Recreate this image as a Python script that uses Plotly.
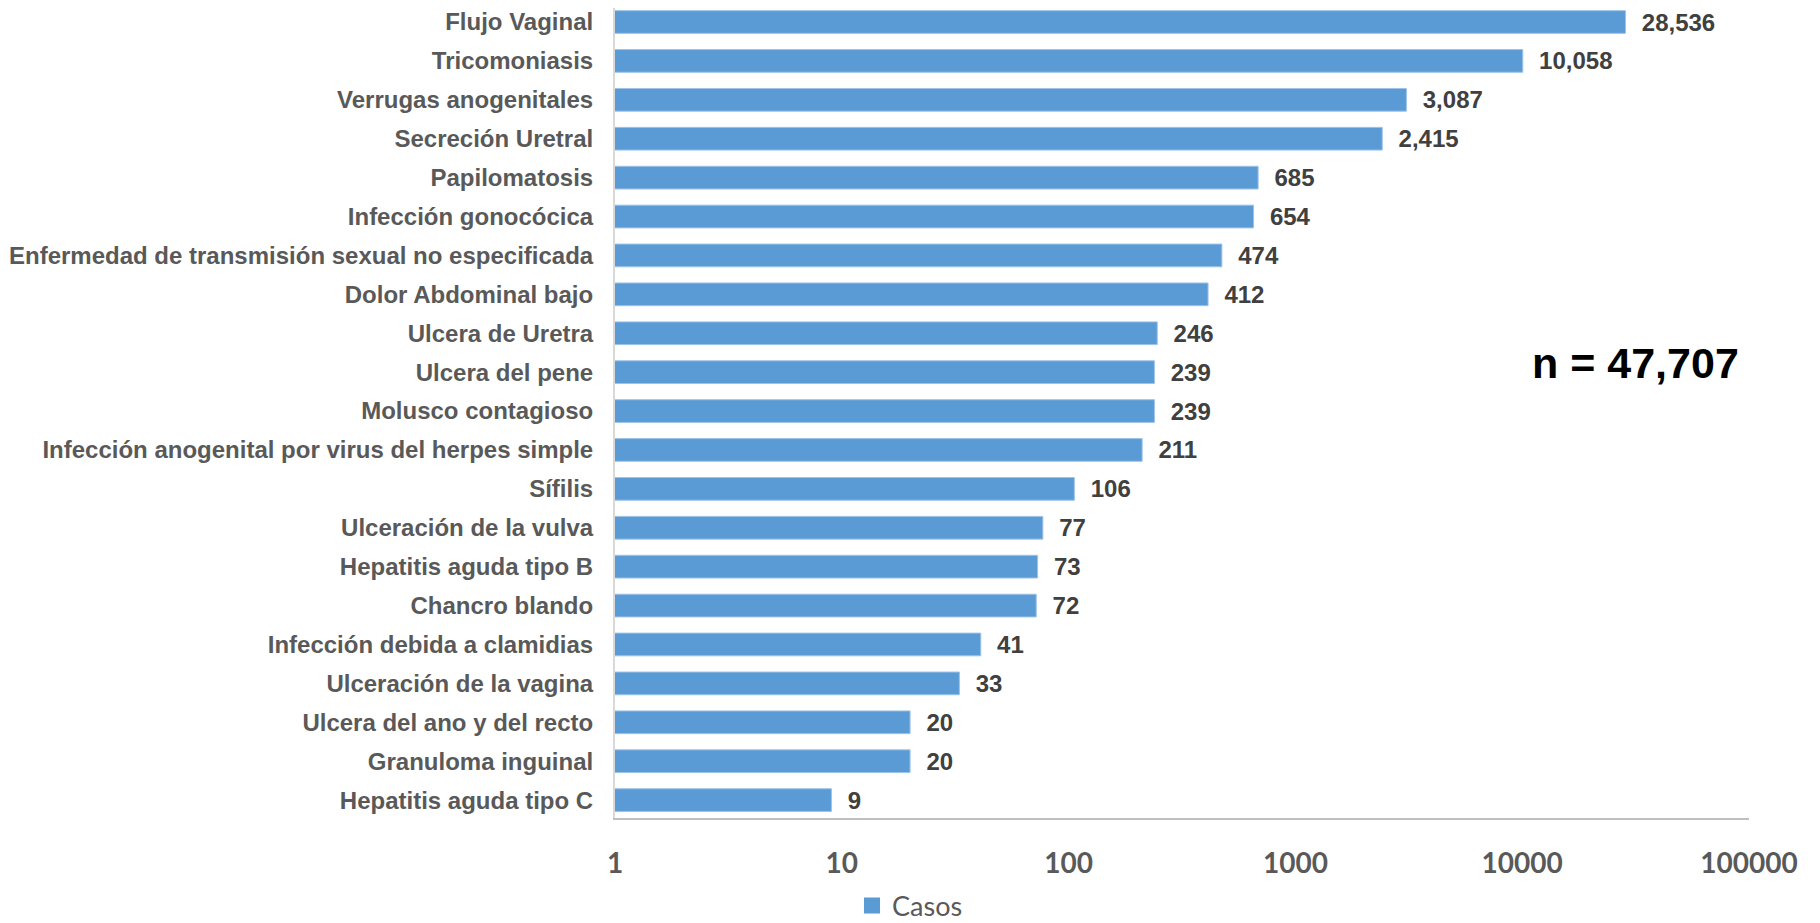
import plotly.graph_objects as go

categories = [
    "Flujo Vaginal", "Tricomoniasis", "Verrugas anogenitales", "Secreción Uretral",
    "Papilomatosis", "Infección gonocócica",
    "Enfermedad de transmisión sexual no especificada", "Dolor Abdominal bajo",
    "Ulcera de Uretra", "Ulcera del pene", "Molusco contagioso",
    "Infección anogenital por virus del herpes simple", "Sífilis",
    "Ulceración de la vulva", "Hepatitis aguda tipo B", "Chancro blando",
    "Infección debida a clamidias", "Ulceración de la vagina",
    "Ulcera del ano y del recto", "Granuloma inguinal", "Hepatitis aguda tipo C",
]
casos = [28536, 10058, 3087, 2415, 685, 654, 474, 412, 246, 239, 239, 211,
         106, 77, 73, 72, 41, 33, 20, 20, 9]
tick_vals = [1, 10, 100, 1000, 10000, 100000]
tick_text = ["1", "10", "100", "1000", "10000", "100000"]
series_name = "Casos"
total_label = "n = 47,707"

BLUE = "#5B9BD5"

fig = go.Figure()
fig.add_trace(go.Bar(
    x=casos, y=categories, orientation="h", name=series_name, showlegend=False,
    marker=dict(color=BLUE, line=dict(color="#9DC3E6", width=1)),
    texttemplate="\u00a0\u00a0%{x:,}", textposition="outside",
    textfont=dict(family="Liberation Sans", size=24, color="#404040", weight="bold"),
    constraintext="none", cliponaxis=False,
))
# legend entry (square swatch like the reference)
fig.add_trace(go.Scatter(
    x=[None], y=[None], mode="markers", name=series_name, showlegend=True,
    marker=dict(symbol="square", size=16, color=BLUE),
))

fig.update_layout(
    width=1812, height=915,
    margin=dict(l=607, r=71, t=0, b=105, autoexpand=False),
    paper_bgcolor="white", plot_bgcolor="white",
    bargap=0.416,
    showlegend=True,
    legend=dict(orientation="h", x=0.209, xanchor="left", y=-0.1086, yanchor="middle",
                font=dict(family="Lato", size=27, color="#595959")),
    annotations=[dict(
        text=total_label, xref="paper", yref="paper", x=0.8995, y=0.5617,
        xanchor="center", yanchor="middle", showarrow=False,
        font=dict(family="Liberation Sans", size=43, color="black", weight="bold"),
    )],
)
fig.update_xaxes(
    type="log", range=[0, 5], tickvals=tick_vals, ticktext=tick_text,
    showgrid=False, zeroline=False, showline=True, linecolor="#BFBFBF", linewidth=2,
    ticks="", ticklabelstandoff=19, automargin=False,
    tickfont=dict(family="Lato", size=28, color="#595959", weight="bold"),
)
fig.update_yaxes(
    type="category", categoryorder="array", categoryarray=categories,
    range=[20.46, -0.36], showgrid=False, showline=True, linecolor="#D9D9D9",
    linewidth=2, ticks="", ticklabelstandoff=15, automargin=False,
    tickfont=dict(family="Liberation Sans", size=24, color="#595959", weight="bold"),
)

fig.write_html("out.html")
